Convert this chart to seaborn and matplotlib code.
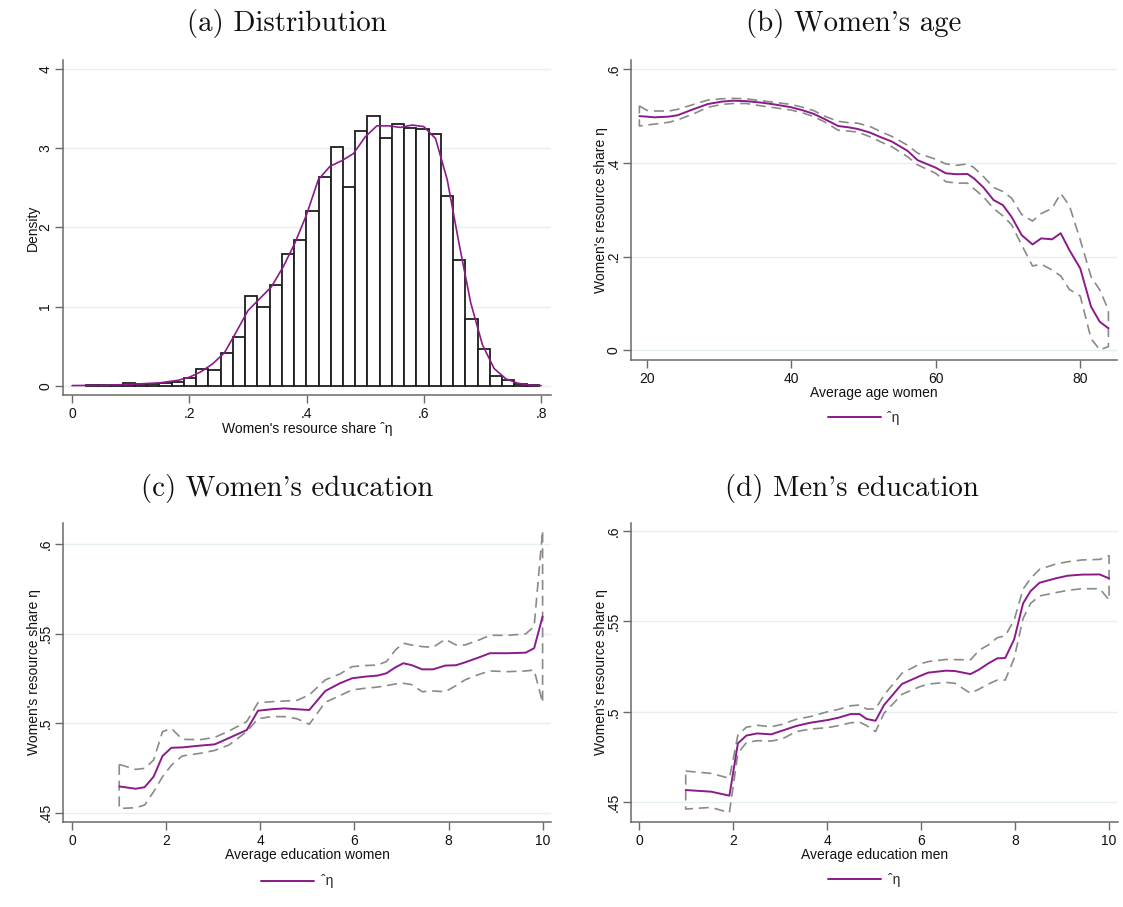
import numpy as np
import pandas as pd
import matplotlib
matplotlib.use("Agg")
import matplotlib.pyplot as plt
import seaborn as sns

# ---------------- data ----------------
# (a) histogram of women's resource share (density per bin) and kernel density
hist_lo, hist_hi, hist_nbins = 0.0238, 0.7962, 37
hist_density = [0.008, 0.006, 0.012, 0.04, 0.02, 0.02, 0.04, 0.05, 0.10, 0.22,
                0.20, 0.41, 0.62, 1.13, 1.00, 1.27, 1.66, 1.84, 2.21, 2.64,
                3.01, 2.51, 3.21, 3.41, 3.13, 3.30, 3.25, 3.24, 3.18, 2.39,
                1.59, 0.85, 0.47, 0.13, 0.07, 0.025, 0.01]
kde_x = [0.00, 0.05, 0.10, 0.15, 0.18, 0.20, 0.22, 0.24, 0.26, 0.28, 0.30,
         0.32, 0.34, 0.36, 0.38, 0.40, 0.42, 0.44, 0.46, 0.48, 0.50, 0.52,
         0.54, 0.56, 0.58, 0.60, 0.62, 0.64, 0.66, 0.68, 0.70, 0.72, 0.74,
         0.76, 0.78, 0.80]
kde_y = [0.005, 0.008, 0.02, 0.04, 0.07, 0.11, 0.18, 0.28, 0.42, 0.68, 0.95,
         1.10, 1.25, 1.50, 1.80, 2.16, 2.60, 2.77, 2.84, 2.93, 3.14, 3.28,
         3.28, 3.26, 3.29, 3.27, 3.12, 2.60, 1.80, 1.05, 0.52, 0.22, 0.09,
         0.035, 0.012, 0.004]

# (b) by average age of women
age = [19.0, 20.0, 21.1, 23.1, 24.3, 26.5, 28.5, 30.4, 31.9, 33.8, 35.8, 37.7,
       40.0, 41.6, 43.1, 44.6, 46.5, 48.0, 49.2, 50.9, 52.4, 53.9, 56.1, 57.5,
       60.0, 61.4, 62.9, 64.4, 65.3, 66.6, 68.0, 69.3, 70.5, 71.9, 73.4, 74.6,
       76.1, 77.3, 78.5, 80.0, 81.5, 82.7, 83.9]
age_eta = [0.500, 0.499, 0.4975, 0.499, 0.502, 0.515, 0.526, 0.531, 0.533,
           0.532, 0.529, 0.525, 0.519, 0.5125, 0.505, 0.494, 0.479, 0.476,
           0.4726, 0.465, 0.455, 0.446, 0.426, 0.406, 0.390, 0.378, 0.376,
           0.3765, 0.367, 0.348, 0.321, 0.310, 0.285, 0.246, 0.226, 0.239,
           0.237, 0.250, 0.214, 0.175, 0.093, 0.061, 0.047]
age_hi = [0.522, 0.5125, 0.511, 0.511, 0.5146, 0.525, 0.5345, 0.537, 0.538,
          0.537, 0.533, 0.5295, 0.525, 0.519, 0.512, 0.500, 0.489, 0.486,
          0.485, 0.478, 0.467, 0.457, 0.438, 0.421, 0.408, 0.398, 0.395,
          0.398, 0.390, 0.371, 0.348, 0.339, 0.325, 0.290, 0.276, 0.292,
          0.303, 0.335, 0.309, 0.236, 0.157, 0.129, 0.086]
age_lo = [0.479, 0.481, 0.483, 0.487, 0.492, 0.505, 0.519, 0.525, 0.527,
          0.527, 0.522, 0.518, 0.513, 0.507, 0.499, 0.488, 0.470, 0.468,
          0.466, 0.456, 0.445, 0.435, 0.4135, 0.396, 0.378, 0.360, 0.357,
          0.357, 0.345, 0.328, 0.303, 0.287, 0.268, 0.225, 0.180, 0.184,
          0.1715, 0.159, 0.130, 0.116, 0.025, 0.001, 0.008]

# (c) by average education of women
edu_w = [1.0, 1.35, 1.54, 1.73, 1.92, 2.11, 2.34, 2.72, 3.03, 3.33, 3.71, 3.95,
         4.24, 4.51, 4.78, 5.04, 5.38, 5.69, 5.95, 6.22, 6.49, 6.68, 6.87, 7.04,
         7.21, 7.44, 7.67, 7.93, 8.16, 8.35, 8.65, 8.88, 9.26, 9.64, 9.82, 10.0]
edu_w_eta = [0.4647, 0.4634, 0.4643, 0.4701, 0.4817, 0.4863, 0.4865, 0.4875,
             0.4882, 0.4917, 0.4962, 0.5070, 0.5078, 0.5083, 0.5078, 0.5074,
             0.5180, 0.5223, 0.5251, 0.5260, 0.5266, 0.5279, 0.5312, 0.5335,
             0.5325, 0.5301, 0.5301, 0.5322, 0.5324, 0.5340, 0.5368, 0.5391,
             0.5391, 0.5394, 0.5419, 0.5596]
edu_w_hi = [0.4770, 0.4742, 0.4748, 0.4794, 0.4953, 0.4971, 0.4910, 0.4908,
            0.4921, 0.4956, 0.5009, 0.5115, 0.5120, 0.5124, 0.5128, 0.5158,
            0.5242, 0.5275, 0.5316, 0.5322, 0.5325, 0.5344, 0.5409, 0.5447,
            0.5437, 0.5428, 0.5424, 0.5469, 0.5437, 0.5437, 0.5465, 0.5491,
            0.5491, 0.5499, 0.5540, 0.6076]
edu_w_lo = [0.4524, 0.4528, 0.4543, 0.4617, 0.4701, 0.4766, 0.4817, 0.4832,
            0.4848, 0.4878, 0.4953, 0.5025, 0.5037, 0.5037, 0.5025, 0.4994,
            0.5117, 0.5154, 0.5186, 0.5195, 0.5202, 0.5210, 0.5219, 0.5223,
            0.5216, 0.5176, 0.5180, 0.5176, 0.5210, 0.5242, 0.5273, 0.5292,
            0.5288, 0.5292, 0.5297, 0.5115]

# (d) by average education of men
edu_m = [0.99, 1.53, 1.92, 2.10, 2.28, 2.51, 2.81, 3.04, 3.34, 3.64, 4.01, 4.24,
         4.50, 4.69, 4.84, 5.03, 5.21, 5.59, 5.97, 6.15, 6.53, 6.72, 7.05, 7.24,
         7.43, 7.62, 7.79, 7.98, 8.17, 8.33, 8.52, 8.86, 9.12, 9.42, 9.80, 10.0]
edu_m_eta = [0.4568, 0.4559, 0.4537, 0.4826, 0.4869, 0.4881, 0.4876, 0.4896,
             0.4922, 0.4940, 0.4955, 0.4968, 0.4988, 0.4988, 0.4961, 0.4951,
             0.5038, 0.5154, 0.5198, 0.5217, 0.5228, 0.5226, 0.5209, 0.5235,
             0.5268, 0.5296, 0.5298, 0.5401, 0.5600, 0.5668, 0.5714, 0.5738,
             0.5753, 0.5759, 0.5760, 0.5738]
edu_m_hi = [0.4673, 0.4660, 0.4633, 0.4872, 0.4915, 0.4926, 0.4918, 0.4931,
            0.4959, 0.4974, 0.5001, 0.5014, 0.5034, 0.5038, 0.5016, 0.5016,
            0.5093, 0.5213, 0.5265, 0.5278, 0.5290, 0.5289, 0.5288, 0.5342,
            0.5370, 0.5410, 0.5421, 0.5508, 0.5679, 0.5738, 0.5788, 0.5817,
            0.5830, 0.5840, 0.5843, 0.5864]
edu_m_lo = [0.4463, 0.4472, 0.4443, 0.4771, 0.4830, 0.4841, 0.4839, 0.4850,
            0.4891, 0.4905, 0.4913, 0.4924, 0.4940, 0.4944, 0.4924, 0.4891,
            0.4992, 0.5097, 0.5139, 0.5154, 0.5163, 0.5158, 0.5103, 0.5127,
            0.5154, 0.5176, 0.5176, 0.5296, 0.5517, 0.5600, 0.5641, 0.5659,
            0.5672, 0.5681, 0.5681, 0.5619]

# ticks and labels
a_xticks, a_xticklabels = [0, 0.2, 0.4, 0.6, 0.8], ["0", ".2", ".4", ".6", ".8"]
a_yticks, a_yticklabels = [0, 1, 2, 3, 4], ["0", "1", "2", "3", "4"]
b_xticks, b_xticklabels = [20, 40, 60, 80], ["20", "40", "60", "80"]
b_yticks, b_yticklabels = [0, 0.2, 0.4, 0.6], ["0", ".2", ".4", ".6"]
edu_xticks, edu_xticklabels = [0, 2, 4, 6, 8, 10], ["0", "2", "4", "6", "8", "10"]
edu_yticks, edu_yticklabels = [0.45, 0.50, 0.55, 0.60], [".45", ".5", ".55", ".6"]

titles = ["(a) Distribution", "(b) Women's age",
          "(c) Women's education", "(d) Men's education"]
share_label = "Women's resource share η"
hat_eta = "ˆη"

# ---------------- style ----------------
sns.set_theme(style="white")
plt.rcParams["font.family"] = ["Liberation Sans", "DejaVu Sans"]
PURPLE = "#8b1a8b"
GRAY_DASH = "#8a8a8a"
AXIS_GRAY = "#6a6a6a"
GRID = "#e6eff1"
FS = 10

fig = plt.figure(figsize=(11.23, 9.07), dpi=100)
W, H = 1123, 907


def px_axes(left, top, right, bottom):
    return fig.add_axes([left / W, 1 - bottom / H, (right - left) / W, (bottom - top) / H])


ax_a = px_axes(62.7, 60, 551, 395)
ax_b = px_axes(630.7, 60, 1117.3, 360)
ax_c = px_axes(63.3, 522.7, 550.6, 821.7)
ax_d = px_axes(630.7, 522.7, 1118, 821.7)


def style(ax, xt, xtl, yt, ytl, xlim, ylim, xlabel, ylabel):
    ax.set_xlim(*xlim)
    ax.set_ylim(*ylim)
    ax.set_xticks(xt)
    ax.set_xticklabels(xtl)
    ax.set_yticks(yt)
    ax.set_yticklabels(ytl, rotation=90, va="center")
    for s in ["top", "right"]:
        ax.spines[s].set_visible(False)
    for s in ["left", "bottom"]:
        ax.spines[s].set_color(AXIS_GRAY)
        ax.spines[s].set_linewidth(1.1)
    ax.tick_params(axis="both", which="major", direction="out", length=5.5,
                   width=1.0, color=AXIS_GRAY, labelsize=FS, labelcolor="#111111",
                   left=True, bottom=True)
    ax.tick_params(axis="y", pad=2.0)
    ax.tick_params(axis="x", pad=3)
    ax.yaxis.grid(True, color=GRID, linewidth=1.0)
    ax.xaxis.grid(False)
    ax.set_axisbelow(True)
    ax.set_xlabel(xlabel, fontsize=FS, color="#111111", labelpad=0.5)
    ax.set_ylabel(ylabel, fontsize=FS, color="#111111", labelpad=-1.5)
    ax.set_facecolor("white")


# (a) histogram with kernel density
edges = np.linspace(hist_lo, hist_hi, hist_nbins + 1)
hist_df = pd.DataFrame({"share": (edges[:-1] + edges[1:]) / 2,
                        "density": hist_density})
sns.histplot(data=hist_df, x="share", weights="density", bins=edges.tolist(),
             stat="count", ax=ax_a, color="white", edgecolor="#1e1e1e",
             linewidth=1.3, alpha=1.0, zorder=2)
sns.lineplot(x=kde_x, y=kde_y, ax=ax_a, color=PURPLE, linewidth=1.2, zorder=3)
style(ax_a, a_xticks, a_xticklabels, a_yticks, a_yticklabels,
      (-0.016, 0.817), (-0.114, 4.11), "Women's resource share " + hat_eta, "Density")


def band_panel(ax, x, eta, hi, lo, leg_anchor):
    # confidence band drawn as one dashed outline around the estimate
    bx = list(x) + list(x[::-1]) + [x[0]]
    by = list(hi) + list(lo[::-1]) + [hi[0]]
    sns.lineplot(x=bx, y=by, ax=ax, sort=False, estimator=None,
                 color=GRAY_DASH, linewidth=1.2, zorder=2)
    ax.lines[-1].set_dashes((6, 3.5))
    sns.lineplot(x=x, y=eta, ax=ax, color=PURPLE, linewidth=1.4, zorder=3)
    handles = [ax.lines[-1]]
    ax.legend(handles=handles, labels=[hat_eta], loc="center",
              bbox_to_anchor=leg_anchor, frameon=False, fontsize=FS,
              handlelength=3.8, handletextpad=0.5)


band_panel(ax_b, age, age_eta, age_hi, age_lo, (0.479, -0.193))
style(ax_b, b_xticks, b_xticklabels, b_yticks, b_yticklabels,
      (17.8, 85.13), (-0.0207, 0.6199), "Average age women", share_label)

band_panel(ax_c, edu_w, edu_w_eta, edu_w_hi, edu_w_lo, (0.48, -0.20))
style(ax_c, edu_xticks, edu_xticklabels, edu_yticks, edu_yticklabels,
      (-0.189, 10.17), (0.445, 0.612), "Average education women", share_label)

band_panel(ax_d, edu_m, edu_m_eta, edu_m_hi, edu_m_lo, (0.479, -0.195))
style(ax_d, edu_xticks, edu_xticklabels, edu_yticks, edu_yticklabels,
      (-0.181, 10.19), (0.4393, 0.6046), "Average education men", share_label)

# panel titles
title_pos = [(287, 24), (854, 24), (287.5, 488.5), (851.5, 488.5)]
for t, (tx, ty) in zip(titles, title_pos):
    fig.text(tx / W, 1 - ty / H, t, family="cmr10", fontsize=20.8,
             ha="center", va="center", color="#111111")

fig.savefig("out.png", dpi=100, facecolor="white")
